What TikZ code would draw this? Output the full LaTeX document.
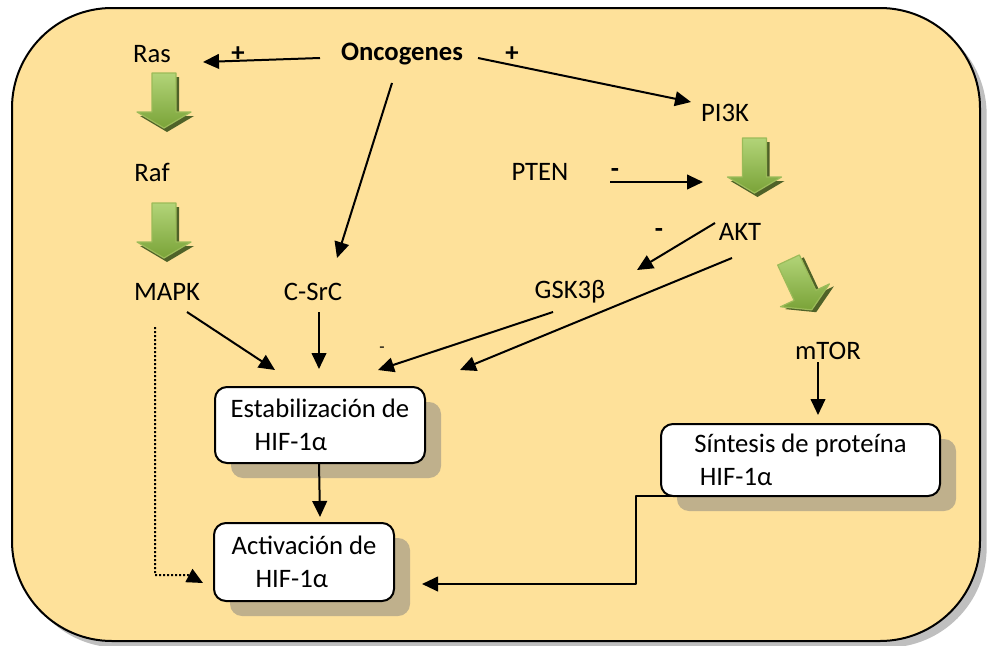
\documentclass[tikz,border=0pt]{standalone}
\usepackage{fontspec}
\setmainfont{Carlito}
\usetikzlibrary{arrows.meta,shadows}

\definecolor{bgfill}{RGB}{254,225,154}
\definecolor{boxshadow}{RGB}{191,176,140}
\definecolor{arrowlight}{RGB}{178,212,120}
\definecolor{arrowdark}{RGB}{122,163,56}
\definecolor{arrowedge}{RGB}{155,187,89}
\definecolor{arrowshadow}{RGB}{79,98,40}

\begin{document}
\begin{tikzpicture}[x=0.75pt,y=-0.75pt,line join=round,
  txt/.style={font=\fontsize{20}{24.75}\selectfont,inner sep=0pt},
  sign/.style={font=\bfseries\fontsize{20}{24.75}\selectfont,inner sep=0pt},
  box/.style={draw,line width=1.5pt,fill=white,rounded corners=9pt,align=left,
    inner sep=0pt,font=\fontsize{20}{24.75}\selectfont,
    drop shadow={shadow xshift=12pt,shadow yshift=-11.25pt,fill=boxshadow,opacity=1}},
  conn/.style={line width=1.5pt,-{Triangle[length=12pt,width=11pt]}},
  dotconn/.style={conn,dash pattern=on 1.5pt off 1.5pt},
  fatarrow/.style={draw=arrowedge,line width=.9pt,top color=arrowlight,bottom color=arrowdark}]

\useasboundingbox (0,0) rectangle (989,646);

% Panel behind everything.
\draw[line width=1.5pt,fill=bgfill,rounded corners=75pt,
  drop shadow={shadow xshift=5pt,shadow yshift=-5pt,fill=black!25,opacity=1}]
  (12,8) rectangle (980,641);

% Pathway members.
\node[txt] (ras) at (152,54) {Ras};
\node[txt,font=\bfseries\fontsize{20}{24.75}\selectfont] (oncog) at (402,54) {Oncogenes};
\node[txt] (pik) at (725,113) {PI3K};
\node[txt] (raf) at (152,172) {Raf};
\node[txt] (pten) at (540,172) {PTEN};
\node[txt] (akt) at (740,232) {AKT};
\node[txt] (mapk) at (167,292) {MAPK};
\node[txt] (csrc) at (313,292) {C-SrC};
\node[txt] (gsk) at (570,292) {GSK3β};
\node[txt] (mtor) at (828,351) {mTOR};

% Signs on the arrows.
\node[sign] (plusras) at (238,54) {+};
\node[sign] (pluspik) at (512,54) {+};
\node[sign] (minuspten) at (615,173) {-};
\node[sign] (minusakt) at (659,233) {-};
\node[txt,font=\fontsize{13}{15}\selectfont] (minusgsk) at (382,350) {-};

% Thick green step arrows.
\foreach \ax/\ay/\rot in {164/73/0,164/203/0,754.5/138/0,788.5/260/25}
{
  \begin{scope}[shift={(\ax,\ay)},rotate=\rot]
    \fill[arrowshadow] (-9,4) -- (15,4) -- (15,43) -- (30,43) -- (3,59) -- (-24,43) -- (-9,43) -- cycle;
    \path[fatarrow] (-12,0) -- (12,0) -- (12,39) -- (27,39) -- (0,55) -- (-27,39) -- (-12,39) -- cycle;
  \end{scope}
}
\coordinate (pikakt) at (703,182);

% Outcome boxes.
\node[box,minimum width=157.5pt,minimum height=57pt] (estab) at (320,425)
  {Estabilización de\\\hspace*{18pt}HIF-1α};
\node[box,minimum width=135pt,minimum height=58.5pt] (activ) at (304,562)
  {Activación de\\\hspace*{18pt}HIF-1α};
\node[box,minimum width=209.25pt,minimum height=54pt] (sintesis) at (800.5,460)
  {Síntesis de proteína\\\hspace*{4pt}HIF-1α};

% Connectors.
\draw[conn] ([shift={(-82,4)}]oncog.center) -- ([shift={(51,8)}]ras.center);
\draw[conn] ([shift={(76,4)}]oncog.center) -- ([shift={(-34,-11)}]pik.center);
\draw[conn] ([shift={(-10,29)}]oncog.center) -- ([shift={(24,-34)}]csrc.center);
\draw[conn] ([shift={(70,10)}]pten.center) -- (pikakt);
\draw[conn] ([shift={(-25,-9)}]akt.center) -- ([shift={(67,-22)}]gsk.center);
\draw[conn] ([shift={(-8,26)}]akt.center) -- ([shift={(140,-55)}]estab.center);
\draw[conn] ([shift={(-17,20)}]gsk.center) -- ([shift={(58,-55)}]estab.center);
\draw[conn] ([shift={(20,20)}]mapk.center) -- ([shift={(-45,-55)}]estab.center);
\draw[conn] ([shift={(6,20)}]csrc.center) -- ([shift={(-1,-56)}]estab.center);
\draw[conn] ([shift={(-10,11)}]mtor.center) -- ([shift={(17.5,-45)}]sintesis.center);
\draw[conn] ([shift={(-1,38)}]estab.center) -- ([shift={(16,-45)}]activ.center);
\draw[conn] ([shift={(51.5,36)}]sintesis.center) -- ++(-216,0) -- ++(0,88)
  -- ([shift={(118,22)}]activ.center);
\draw[dotconn] ([shift={(-12,35)}]mapk.center) -- ++(0,248) -- ++(33,0)
  -- ([shift={(-101,21)}]activ.center);
\end{tikzpicture}
\end{document}
